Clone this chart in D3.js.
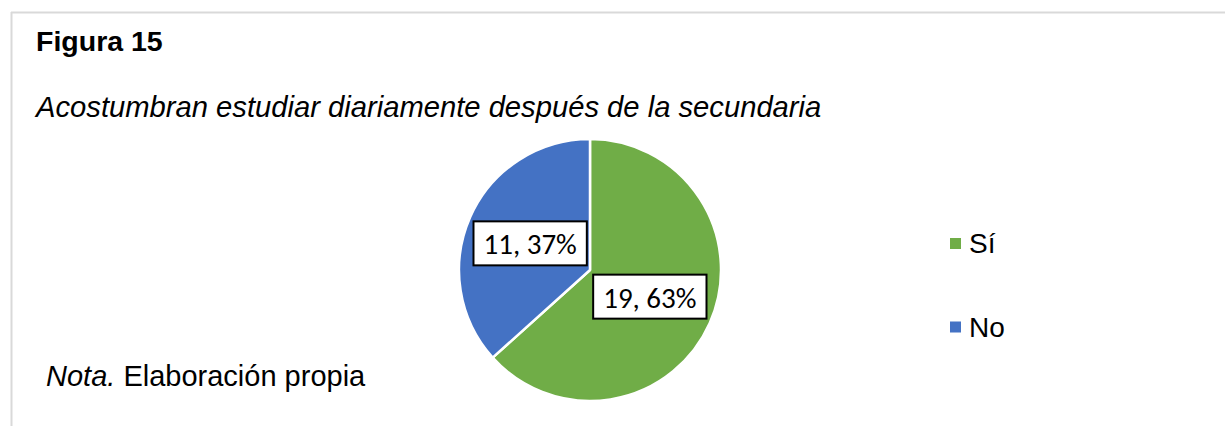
<!DOCTYPE html>
<html>
<head>
<meta charset="utf-8">
<script src="https://cdn.jsdelivr.net/npm/d3@7"></script>
<style>
  html, body { margin: 0; padding: 0; background: #fff; }
  svg { display: block; }
</style>
</head>
<body>
<div id="chart"></div>
<script>
// datos de la figura
const categories = ["Sí", "No"];
const counts = [19, 11];
const percents = ["63%", "37%"];
const colors = ["#70AD47", "#4472C4"];

const width = 1225;
const height = 426;

const svg = d3.select("#chart")
  .append("svg")
  .attr("width", width)
  .attr("height", height);

// marco gris (solo arriba e izquierda)
svg.append("line")
  .attr("x1", 11).attr("x2", width).attr("y1", 12.5).attr("y2", 12.5)
  .attr("stroke", "#d9d9d9").attr("stroke-width", 2);
svg.append("line")
  .attr("x1", 11.5).attr("x2", 11.5).attr("y1", 12).attr("y2", height)
  .attr("stroke", "#d9d9d9").attr("stroke-width", 2);

// títulos
svg.append("text")
  .attr("x", 36).attr("y", 51)
  .style("font-family", "Arial, 'Liberation Sans', sans-serif")
  .style("font-weight", "bold")
  .style("font-size", "28.5px")
  .attr("fill", "#000")
  .text("Figura 15");

svg.append("text")
  .attr("x", 36).attr("y", 117)
  .style("font-family", "Arial, 'Liberation Sans', sans-serif")
  .style("font-style", "italic")
  .style("font-size", "29.2px")
  .attr("fill", "#000")
  .text("Acostumbran estudiar diariamente después de la secundaria");

const nota = svg.append("text")
  .attr("x", 46).attr("y", 386)
  .style("font-family", "Arial, 'Liberation Sans', sans-serif")
  .style("font-size", "29px")
  .attr("fill", "#000");
nota.append("tspan").style("font-style", "italic").text("Nota.");
nota.append("tspan").text(" Elaboración propia");

// pastel
const cx = 590, cy = 270, radius = 131;
const data = categories.map((c, i) => ({ cat: c, value: counts[i], pct: percents[i], color: colors[i] }));

const pie = d3.pie().sort(null).value(d => d.value);
const arc = d3.arc().innerRadius(0).outerRadius(radius);
const labelArc = d3.arc().innerRadius(radius * 0.5).outerRadius(radius * 0.5);

const g = svg.append("g").attr("transform", `translate(${cx},${cy})`);
const arcs = pie(data);

g.selectAll("path.slice")
  .data(arcs)
  .join("path")
  .attr("class", "slice")
  .attr("d", arc)
  .attr("fill", d => d.data.color)
  .attr("stroke", "#fff")
  .attr("stroke-width", 2.5)
  .attr("stroke-linejoin", "round");

// etiquetas con caja
const labels = g.selectAll("g.label")
  .data(arcs)
  .join("g")
  .attr("class", "label")
  .attr("transform", d => `translate(${labelArc.centroid(d)})`);

labels.append("rect").attr("fill", "#fff").attr("stroke", "#000").attr("stroke-width", 2);
labels.append("text")
  .attr("text-anchor", "middle")
  .attr("dominant-baseline", "central")
  .attr("y", 1)
  .style("font-family", "Carlito, Calibri, 'Open Sans', sans-serif")
  .style("font-size", "29px")
  .attr("fill", "#000")
  .text(d => `${d.data.value}, ${d.data.pct}`);

labels.each(function () {
  const t = d3.select(this).select("text").node();
  const w = t.getComputedTextLength() + 20;
  const h = 44;
  d3.select(this).select("rect")
    .attr("x", -w / 2).attr("y", -h / 2)
    .attr("width", w).attr("height", h);
});

// leyenda
const legendY = d3.scalePoint().domain(categories).range([243.5, 327]);
const legend = svg.selectAll("g.legend")
  .data(data)
  .join("g")
  .attr("class", "legend")
  .attr("transform", d => `translate(950,${legendY(d.cat)})`);

legend.append("rect")
  .attr("x", 0).attr("y", -5.5)
  .attr("width", 11).attr("height", 11)
  .attr("fill", d => d.color);
legend.append("text")
  .attr("x", 19).attr("y", 9.5)
  .style("font-family", "Arial, 'Liberation Sans', sans-serif")
  .style("font-size", "28px")
  .attr("fill", "#000")
  .text(d => d.cat);
</script>
</body>
</html>
